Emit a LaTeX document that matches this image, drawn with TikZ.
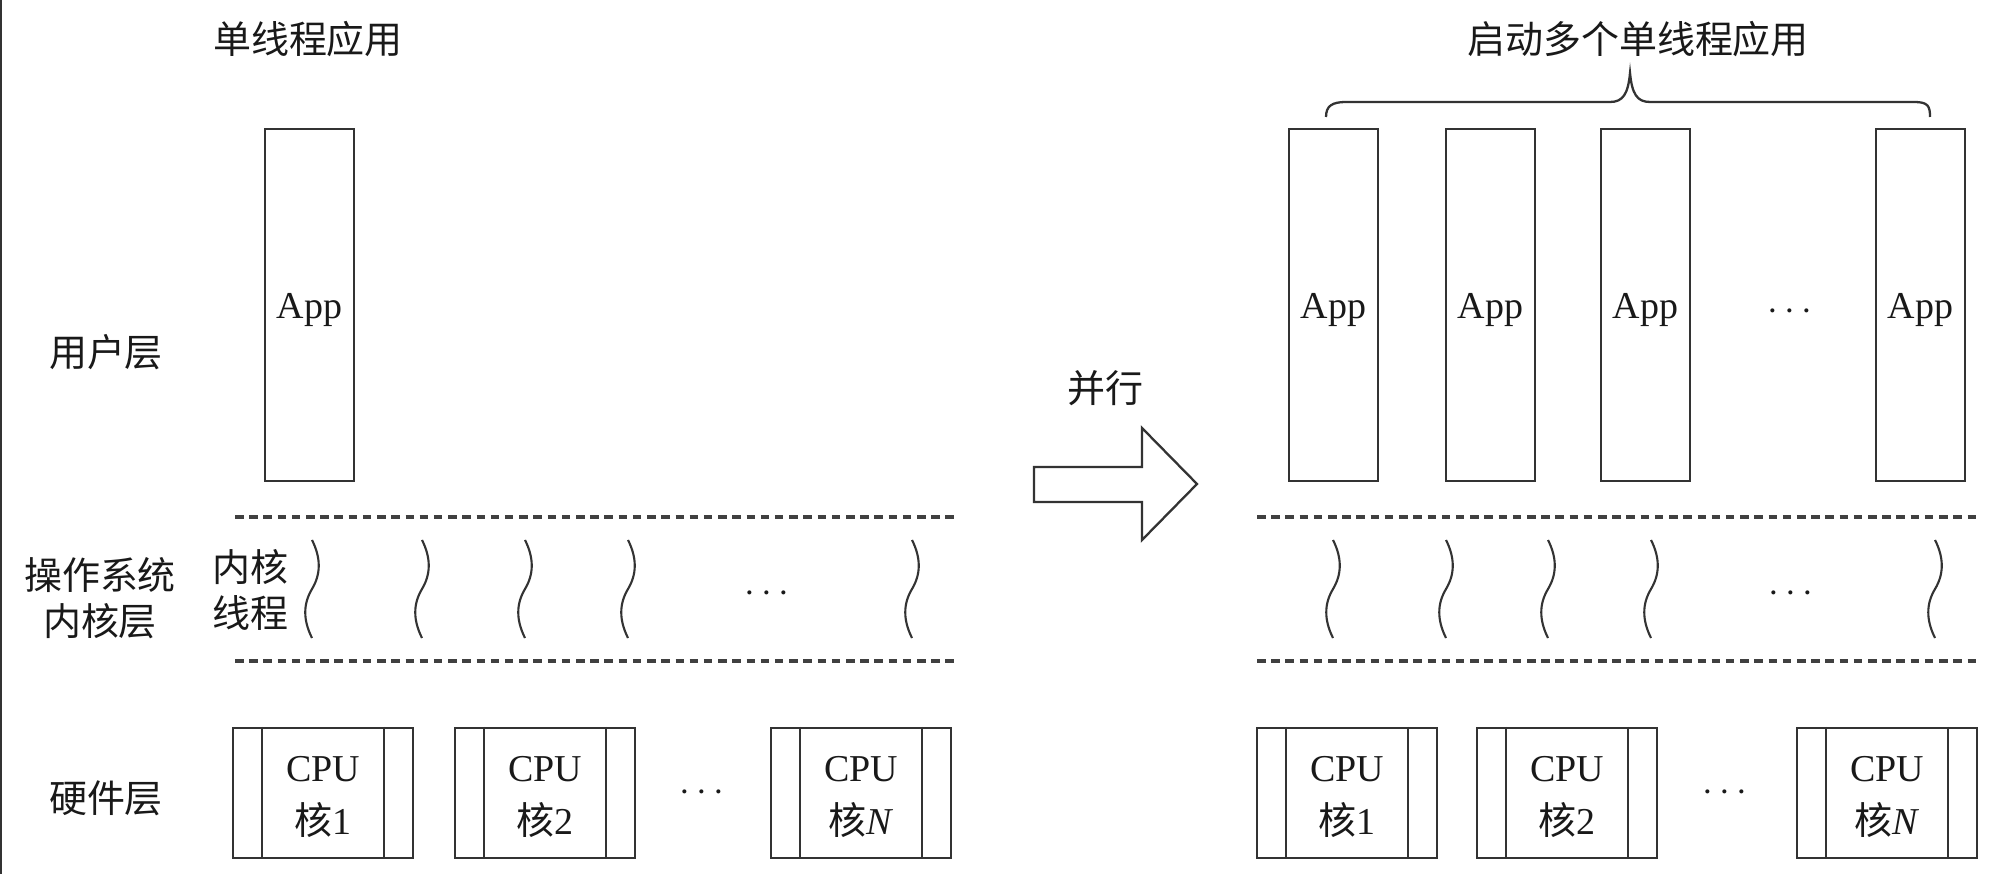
\documentclass[tikz,border=0pt]{standalone}
\usepackage{fontspec}
\setmainfont{Liberation Serif}
\newfontfamily\cjk{Noto Sans CJK SC}
\usetikzlibrary{calc}
\begin{document}
\begin{tikzpicture}[x=0.01cm,y=-0.01cm,
  lbl/.style={inner sep=0pt, text=black!90, font=\cjk\fontsize{10.8pt}{12.9pt}\selectfont, align=center},
  appbox/.style={draw=black!80, line width=0.65pt, minimum width=0.89cm, minimum height=3.52cm, inner sep=0pt, font=\fontsize{10.8pt}{12.9pt}\selectfont, text=black!90},
  cpubox/.style={draw=black!80, line width=0.65pt, minimum width=1.8cm, minimum height=1.3cm, inner sep=0pt, align=center, font=\fontsize{10.8pt}{15pt}\selectfont, text=black!90},
  sepline/.style={draw=black!75, line width=0.95pt, dash pattern=on 0.085cm off 0.057cm},
  wave/.style={draw=black!80, line width=0.6pt},
  dotsnode/.style={inner sep=0pt, text=black!90, font=\fontsize{10.8pt}{12.9pt}\selectfont},
  panel/.style={draw=black!80, line width=0.65pt}
]
\useasboundingbox (0,0) rectangle (1998,874);
\fill[white] (0,0) rectangle (1998,874);
% left edge line
\draw[black!80, line width=0.6pt] (1,0) -- (1,874);

% titles and layer labels
\node[lbl] (t1) at (308,39) {单线程应用};
\node[lbl] (t2) at (1638,39) {启动多个单线程应用};
\node[lbl] (user) at (106,352) {用户层};
\node[lbl] (kern) at (100,598) {操作系统\\内核层};
\node[lbl] (hw) at (106,798) {硬件层};
\node[lbl] (kt) at (250,590) {内核\\线程};
\node[lbl] (par) at (1105,388) {并行};

% app boxes
\newcommand{\apptext}{\smash{\raisebox{-0.14cm}{App}}}
\node[appbox] (appL) at (309.5,305) {\apptext};
\node[appbox] (appR1) at (1333.5,305) {\apptext};
\node[appbox] (appR2) at (1490.5,305) {\apptext};
\node[appbox] (appR3) at (1645.5,305) {\apptext};
\node[appbox] (appR4) at (1920.5,305) {\apptext};
\node[dotsnode] (appdots) at (1790,312) {$\cdots$};

% brace
\draw[black!80, line width=0.65pt] (1326,117) .. controls (1326,106) and (1332,102) .. (1346,102) -- (1610,102) .. controls (1623,102) and (1628,94) .. (1630,73) .. controls (1632,94) and (1637,102) .. (1650,102) -- (1914,102) .. controls (1928,102) and (1930,106) .. (1930,117);

% arrow
\draw[black!80, line width=0.65pt, fill=white] (1034,467) -- (1142,467) -- (1142,428) -- (1197,484) -- (1142,540) -- (1142,502) -- (1034,502) -- cycle;

% separator lines
\draw[sepline] (235,517) -- (957,517);
\draw[sepline] (235,661) -- (957,661);
\draw[sepline] (1257,517) -- (1978,517);
\draw[sepline] (1257,661) -- (1978,661);

% kernel threads
\foreach \c in {312,422,525,628,912,1333,1446,1548,1651,1935}{
  \draw[wave] (\c,540) .. controls (\c+9,558) and (\c+9,574) .. (\c,589) .. controls (\c-9,604) and (\c-9,620) .. (\c,638);
}
\node[dotsnode] (kdotsL) at (767,594) {$\cdots$};
\node[dotsnode] (kdotsR) at (1791,594) {$\cdots$};

% CPU boxes
\foreach \n/\cx/\lab in {cL1/323/1, cL2/545/2, cL3/861/\textit{N}, cR1/1347/1, cR2/1567/2, cR3/1887/\textit{N}}{
  \node[cpubox] (\n) at (\cx,793) {};
  \node[inner sep=0pt, align=center, font=\fontsize{10.8pt}{15pt}\selectfont, text=black!90] (\n t) at (\cx,797) {CPU\\{\cjk 核}\lab};
  \draw[panel] ($(\n.north west)+(30,0)$) -- ($(\n.south west)+(30,0)$);
  \draw[panel] ($(\n.north east)+(-30,0)$) -- ($(\n.south east)+(-30,0)$);
}
\node[dotsnode] (cdotsL) at (702,793) {$\cdots$};
\node[dotsnode] (cdotsR) at (1725,793) {$\cdots$};
\end{tikzpicture}
\end{document}
